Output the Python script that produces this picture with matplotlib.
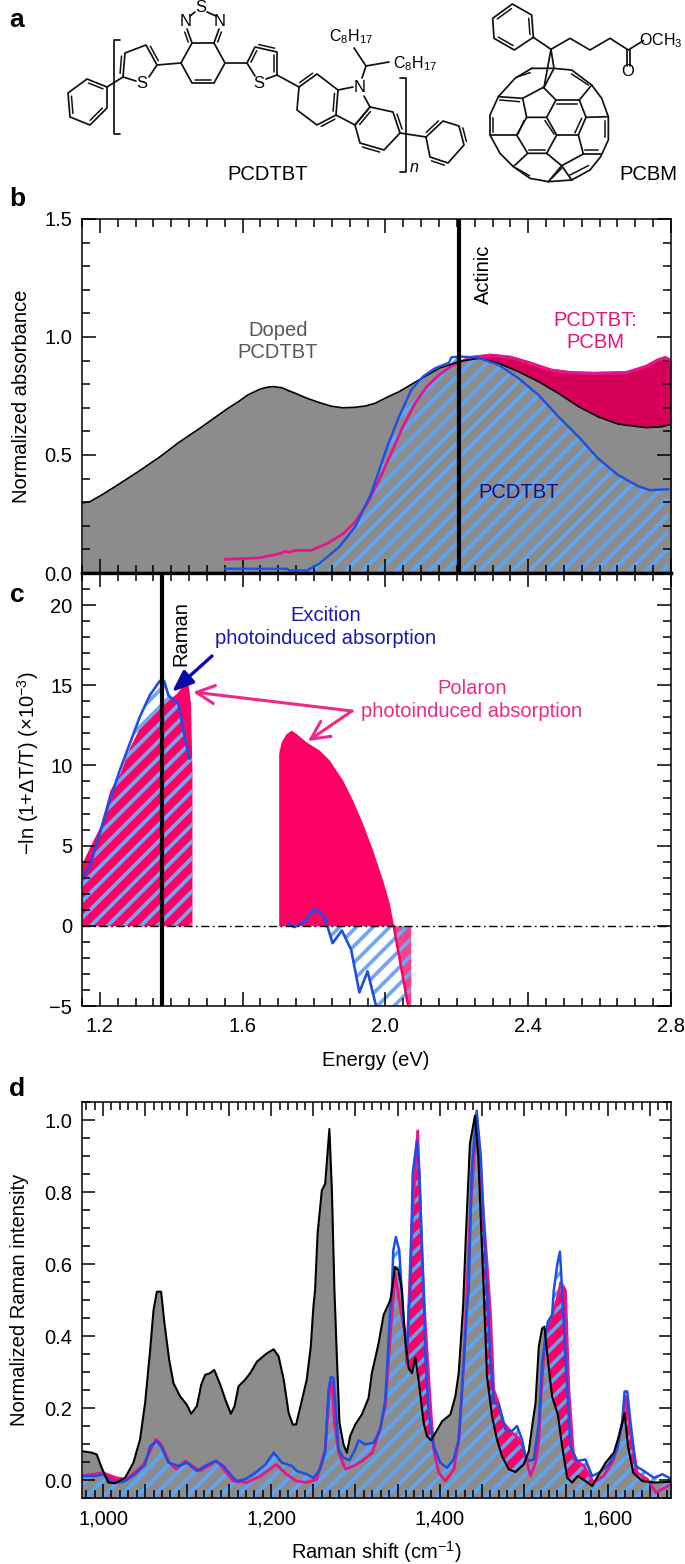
import matplotlib
matplotlib.use("Agg")
import matplotlib.pyplot as plt
import numpy as np
from matplotlib.ticker import MultipleLocator, FuncFormatter

plt.rcParams["font.family"] = ["Liberation Sans", "DejaVu Sans"]
plt.rcParams["font.size"] = 14.5
plt.rcParams["hatch.linewidth"] = 2.7
plt.rcParams["axes.linewidth"] = 1.1
plt.rcParams["mathtext.default"] = "regular"

W, H = 685, 1564

GREY = "#8c8c8c"
HATCH = "#5ca4f6"
HATCH_C = "#72a6f2"
BLUE = "#1c4fe6"
PINK = "#e8158a"
PINK_B = "#d6005a"
PINK_C = "#ff0064"

# panel b: absorbance
doped_e = [1.15, 1.172, 1.21, 1.256, 1.31, 1.368, 1.42, 1.48, 1.558, 1.59, 1.614, 1.647, 1.665, 1.686, 1.71, 1.725, 1.75,
           1.781, 1.815, 1.848, 1.88, 1.915, 1.945, 1.971, 2.005, 2.038, 2.094, 2.15, 2.206, 2.261, 2.317, 2.373, 2.429,
           2.485, 2.541, 2.596, 2.652, 2.73, 2.775, 2.8]
doped_a = [0.297, 0.302, 0.335, 0.379, 0.432, 0.492, 0.552, 0.613, 0.697, 0.728, 0.754, 0.778, 0.786, 0.79, 0.785, 0.775, 0.76,
           0.74, 0.722, 0.707, 0.7, 0.702, 0.708, 0.719, 0.745, 0.768, 0.818, 0.867, 0.896, 0.91, 0.889, 0.853, 0.811,
           0.761, 0.705, 0.662, 0.631, 0.616, 0.62, 0.63]
neat_e = [1.552, 1.725, 1.73, 1.781, 1.815, 1.87, 1.915, 1.96, 2.005, 2.038, 2.072, 2.105, 2.138, 2.178, 2.185, 2.206,
          2.256, 2.317, 2.373, 2.429, 2.485, 2.541, 2.596, 2.652, 2.708, 2.741, 2.792]
neat_a = [0.018, 0.018, 0.011, 0.011, 0.04, 0.11, 0.195, 0.337, 0.535, 0.662, 0.775, 0.832, 0.867, 0.891, 0.914, 0.917,
          0.914, 0.882, 0.825, 0.754, 0.662, 0.577, 0.485, 0.415, 0.368, 0.351, 0.355]
blend_e = [1.552, 1.647, 1.703, 1.72, 1.731, 1.748, 1.792, 1.837, 1.882, 1.915, 1.949, 1.982, 2.016, 2.049, 2.083, 2.116,
           2.15, 2.183, 2.206, 2.239, 2.295, 2.351, 2.407, 2.463, 2.518, 2.585, 2.675, 2.73, 2.764, 2.784, 2.8]
blend_a = [0.058, 0.064, 0.082, 0.092, 0.088, 0.096, 0.096, 0.125, 0.167, 0.216, 0.294, 0.393, 0.507, 0.62, 0.719, 0.79,
           0.839, 0.875, 0.893, 0.913, 0.923, 0.914, 0.889, 0.86, 0.849, 0.846, 0.849, 0.875, 0.903, 0.913, 0.9]

# panel c: photoinduced absorption
pol1_e = [1.15, 1.172, 1.2, 1.228, 1.256, 1.284, 1.312, 1.34, 1.368, 1.396, 1.414, 1.433, 1.447, 1.454, 1.458, 1.458]
pol1_s = [3.9, 4.94, 6.18, 8.46, 9.5, 11.16, 12.4, 13.24, 13.65, 14.17, 14.48, 15.0, 15.1, 13.86, 9.7, 0]
pol2_e = [1.701, 1.701, 1.708, 1.722, 1.736, 1.75, 1.778, 1.815, 1.843, 1.88, 1.908, 1.936, 1.964, 1.992, 2.011, 2.023,
          2.04, 2.066, 2.071]
pol2_s = [0, 10.75, 11.47, 11.99, 12.2, 11.99, 11.47, 10.95, 10.33, 9.09, 7.84, 6.39, 4.73, 2.86, 1.41, 0,
          -2.1, -5.3, -5.3]
exc1_e = [1.15, 1.172, 1.2, 1.228, 1.256, 1.284, 1.312, 1.34, 1.368, 1.38, 1.392, 1.406, 1.42, 1.434, 1.451]
exc1_s = [2.97, 3.69, 5.77, 7.84, 9.7, 11.37, 13.03, 14.38, 15.27, 15.27, 14.38, 14.07, 13.86, 12.2, 10.44]
exc2_e = [1.729, 1.745, 1.773, 1.801, 1.829, 1.852, 1.878, 1.904, 1.927, 1.95, 1.974, 1.985]
exc2_s = [0.12, -0.08, 0.27, 1.04, 0.58, -1.08, -0.29, -1.49, -4.15, -2.84, -5.02, -6.0]

# panel d: Raman
doped_w = [975, 986.5, 992.5, 998.4, 1006.3, 1014.3, 1026.2, 1036.1, 1044, 1050, 1056, 1060, 1064, 1069, 1073, 1078.6, 1083.7,
           1091.7, 1099.6, 1104.8, 1111.5, 1116.7, 1121.4, 1127.4, 1132.1, 1139.3, 1146, 1152, 1156.3, 1161, 1169, 1175,
           1183, 1194.8, 1202.8, 1208.7, 1214.7, 1220.6, 1225.5, 1229.4, 1234.2, 1242.1, 1246.9, 1250, 1252, 1255, 1260,
           1264, 1269, 1272, 1275, 1277.9, 1281, 1285.8, 1289.8, 1293.7, 1299.7, 1307.6, 1315.6, 1319.5, 1327.5, 1333.4,
           1341.4, 1343.3, 1347, 1351, 1355.2, 1359.2, 1363.2, 1367.2, 1371.1, 1375, 1381, 1385, 1389.8, 1395, 1403,
           1412.8, 1418.7, 1422.7, 1427.9, 1431, 1436, 1442, 1446, 1449, 1452.4, 1456.3, 1462.3, 1468.2, 1474.2, 1482.1,
           1490, 1500, 1506, 1510, 1514, 1517.9, 1521.8, 1524.6, 1528.6, 1533.7, 1540.5, 1545.6, 1551.6, 1557.5, 1564.3,
           1573.4, 1581.3, 1589.3, 1597.2, 1607.1, 1613.1, 1619.8, 1623.8, 1630.1, 1640.9, 1654.8, 1676]
doped_i = [0.08, 0.076, 0.071, 0.034, -0.007, -0.009, 0.006, 0.048, 0.113, 0.214, 0.361, 0.472, 0.523, 0.523, 0.435, 0.334, 0.269,
           0.232, 0.209, 0.184, 0.205, 0.265, 0.292, 0.297, 0.306, 0.265, 0.219, 0.184, 0.205, 0.26, 0.279, 0.297,
           0.329, 0.352, 0.363, 0.343, 0.279, 0.186, 0.154, 0.154, 0.2, 0.279, 0.371, 0.481, 0.527, 0.685, 0.804,
           0.823, 0.975, 0.804, 0.527, 0.343, 0.159, 0.099, 0.076, 0.122, 0.154, 0.182, 0.228, 0.297, 0.38, 0.458,
           0.5, 0.527, 0.592, 0.583, 0.527, 0.389, 0.31, 0.297, 0.34, 0.278, 0.159, 0.122, 0.11, 0.131, 0.163,
           0.182, 0.232, 0.297, 0.481, 0.666, 0.934, 1.012, 0.897, 0.72, 0.527, 0.288, 0.177, 0.112, 0.066, 0.03,
           0.022, 0.043, 0.08, 0.15, 0.214, 0.371, 0.421, 0.426, 0.334, 0.232, 0.182, 0.094, 0.006, -0.007, 0.011,
           -0.003, -0.017, 0.016, 0.048, 0.076, 0.122, 0.185, 0.094, 0.02, -0.003, -0.007, -0.005]
neat_w = [975, 990.5, 1000.4, 1008.3, 1018.3, 1026.2, 1038, 1050, 1056, 1064, 1069.8, 1077.8, 1089.7, 1099.6, 1111.5, 1121.4,
          1133.3, 1143.3, 1151.2, 1159, 1169, 1181, 1192.9, 1202.8, 1212.7, 1224.6, 1230.2, 1242.1, 1250, 1258, 1264, 1268,
          1270.7, 1273.9, 1277, 1279.8, 1285.8, 1292.9, 1299.7, 1303.7, 1311.6, 1321.5, 1329.4, 1335.4, 1339.4, 1341.4,
          1343.3, 1345, 1348, 1352, 1355, 1357.2, 1361.2, 1363.6, 1365.2, 1368, 1373, 1376, 1381, 1383, 1387, 1393, 1400.9,
          1408.8, 1416.7, 1422.7, 1426.7, 1432.6, 1434.6, 1438, 1444, 1449, 1452.5, 1456.3, 1460.3, 1464.3, 1470.2, 1478.2,
          1486, 1492, 1498, 1502, 1506, 1512, 1518, 1521.8, 1528.6, 1533.7, 1535.7, 1540, 1543, 1545.6, 1549.6, 1555.5,
          1563.5, 1573.4, 1581.3, 1589.3, 1601.2, 1611.1, 1617, 1619.8, 1623, 1627, 1633, 1642.9, 1654.8, 1664.7, 1676]
neat_i = [0.011, 0.011, 0.016, -0.003, -0.007, -0.003, 0.016, 0.043, 0.094, 0.108, 0.09, 0.048, 0.039, 0.048, 0.025, 0.039,
          0.053, 0.039, 0.016, -0.003, 0.002, 0.02, 0.043, 0.076, 0.048, 0.039, 0.025, 0.016, 0.006, 0.029, 0.076, 0.251,
          0.286, 0.283, 0.186, 0.085, 0.062, 0.055, 0.085, 0.11, 0.099, 0.103, 0.14, 0.223, 0.389, 0.481,
          0.527, 0.638, 0.675, 0.638, 0.528, 0.435, 0.352, 0.481, 0.527, 0.851, 0.943, 0.851, 0.527, 0.352, 0.186, 0.094, 0.048,
          0.034, 0.057, 0.112, 0.251, 0.481, 0.527, 0.851, 1.026, 0.897, 0.72, 0.527, 0.343, 0.214, 0.209, 0.14,
          0.136, 0.15, 0.112, 0.066, 0.053, 0.057, 0.159, 0.325, 0.44, 0.458, 0.527, 0.601, 0.634, 0.527, 0.343, 0.094,
          0.053, 0.057, 0.011, 0.02, 0.043, 0.085, 0.158, 0.246, 0.246, 0.158, 0.039, 0.025, 0.006, 0.016, 0.002]
blend_w = [975, 1000, 1016, 1028, 1048, 1063, 1069, 1079, 1087, 1098, 1115, 1135, 1155, 1171, 1187, 1206, 1218, 1230, 1242,
           1254, 1264, 1269, 1272, 1275, 1280, 1288, 1298, 1308, 1320, 1328, 1335.4, 1343, 1347, 1355, 1359, 1361, 1364, 1367,
           1374, 1379, 1383, 1389, 1393, 1399, 1407, 1417, 1423, 1429, 1437, 1444, 1450, 1456.4, 1460.3, 1464.3, 1470, 1476,
           1486, 1494, 1500, 1504, 1508, 1514, 1518, 1519.8, 1525.8, 1531.7, 1540.5, 1544, 1549.6, 1553.6, 1559.5, 1572, 1583,
           1595, 1607, 1617, 1621, 1629, 1635, 1647, 1657, 1675]
blend_i = [0.011, 0.02, 0.006, 0.002, 0.043, 0.113, 0.099, 0.048, 0.03, 0.053, 0.025, 0.053, -0.003, -0.007, 0.011, 0.043,
           0.016, -0.003, -0.007, 0.002, 0.085, 0.242, 0.27, 0.159, 0.076, 0.03, 0.039, 0.053, 0.076, 0.131, 0.205, 0.45,
           0.574, 0.454, 0.407, 0.325, 0.527, 0.712, 0.97, 0.62, 0.435, 0.214, 0.085, 0.02, -0.003, 0.03, 0.112, 0.343,
           0.758, 1.006, 0.804, 0.6, 0.47, 0.251, 0.214, 0.159, 0.131, 0.117, 0.085, 0.048, 0.011, 0.048, 0.112, 0.205, 0.408,
           0.444, 0.509, 0.55, 0.527, 0.251, 0.057, 0.039, -0.007, 0.011, 0.057, 0.159, 0.232, 0.103, 0.02, 0.002, -0.035,
           -0.012]

e_ticks = [1.2, 1.6, 2.0, 2.4, 2.8]
w_ticks = [1000, 1200, 1400, 1600]


def axes_px(left, top, right, bottom):
    return fig.add_axes([left / W, 1 - bottom / H, (right - left) / W, (bottom - top) / H])


def hatch_fill(ax, x, y1, y2, color):
    ax.fill_between(x, y1, y2, facecolor="none", edgecolor=color, hatch="//", linewidth=0)


def style_ticks(ax, ymaj, ymin, xmaj=0.4, xmin=0.05):
    ax.xaxis.set_major_locator(MultipleLocator(xmaj))
    ax.xaxis.set_minor_locator(MultipleLocator(xmin))
    ax.yaxis.set_major_locator(MultipleLocator(ymaj))
    ax.yaxis.set_minor_locator(MultipleLocator(ymin))
    ax.tick_params(which="major", direction="in", top=True, right=True, length=10, width=1.1, labelsize=14.5)
    ax.tick_params(which="minor", direction="in", top=True, right=True, length=5.5, width=1.1)
    ax.tick_params(axis="y", which="both", pad=7)
    ax.tick_params(axis="x", which="both", pad=8)


fig = plt.figure(figsize=(W / 100, H / 100), dpi=100)

###########
# panel b
###########
axb = axes_px(82, 219, 671, 573)
axb.fill_between(blend_e, blend_a, 0, color=PINK_B, linewidth=0)
axb.fill_between(doped_e, doped_a, 0, color=GREY, linewidth=0)
hatch_fill(axb, neat_e, neat_a, 0, HATCH)
axb.plot(blend_e[blend_e.index(2.239):], blend_a[blend_a.index(0.913):], color=PINK, lw=2.2)
axb.plot(blend_e, blend_a, color=PINK, lw=2.0)
axb.plot(doped_e, doped_a, color="black", lw=1.2)
axb.plot(neat_e, neat_a, color=BLUE, lw=1.7)
axb.axvline(2.205, color="black", lw=3)
axb.set_xlim(1.15, 2.8)
axb.set_ylim(0, 1.5)
style_ticks(axb, 0.5, 0.1)
axb.set_yticks([0, 0.5, 1.0, 1.5])
axb.yaxis.set_major_formatter(FuncFormatter(lambda v, p: f"{v:.1f}"))
axb.tick_params(axis="x", which="both", labelbottom=False)
axb.spines["bottom"].set_linewidth(2.4)
axb.spines["bottom"].set_zorder(5)

###########
# panel c
###########
axc = axes_px(82, 573, 671, 1006)
axc.fill_between(pol1_e, pol1_s, 0, color=PINK_C, linewidth=0)
pol2_e_arr = np.array(pol2_e)
pol2_s_arr = np.array(pol2_s)
axc.fill_between(pol2_e_arr, np.maximum(pol2_s_arr, 0), 0, color=PINK_C, linewidth=0)
axc.fill_between(pol2_e_arr, np.minimum(pol2_s_arr, 0), 0, color="#f0458c", linewidth=0)
axc.plot(pol2_e[15:18], pol2_s[15:18], color=PINK_C, lw=1.8)
# hatch goes on up to the end of the polaron band
hatch_fill(axc, exc1_e + [1.458], exc1_s + [10.44], 0, HATCH_C)
hatch_fill(axc, exc2_e + [2.071], np.minimum(exc2_s + [-6.0], 0), 0, HATCH_C)
axc.plot(exc1_e, exc1_s, color=BLUE, lw=1.9)
axc.plot(exc2_e, exc2_s, color=BLUE, lw=1.9)
axc.axhline(0, color="black", lw=1.0, ls=(0, (6, 2.5, 1.2, 2.5)))
axc.axvline(1.375, color="black", lw=3)
axc.set_xlim(1.15, 2.8)
axc.set_ylim(-5, 22)
style_ticks(axc, 5, 1)
axc.set_xticks(e_ticks)
axc.set_yticks([-5, 0, 5, 10, 15, 20])
axc.xaxis.set_major_formatter(FuncFormatter(lambda v, p: f"{v:.1f}"))
axc.yaxis.set_major_formatter(FuncFormatter(lambda v, p: f"\u2212{abs(v):.0f}" if v < 0 else f"{v:.0f}"))
axc.spines["top"].set_linewidth(2.4)

###########
# panel d
###########
axd = axes_px(82, 1102, 671, 1498)
axd.fill_between(blend_w, blend_i, -0.05, color=PINK_C, linewidth=0)
axd.fill_between(doped_w, doped_i, -0.05, color=GREY, linewidth=0)
axd.plot(blend_w, blend_i, color=PINK, lw=2.0)
hatch_fill(axd, neat_w, neat_i, -0.05, HATCH)
axd.plot(neat_w, neat_i, color=BLUE, lw=1.8)
axd.plot(doped_w, doped_i, color="black", lw=1.5)
axd.set_xlim(975, 1675)
axd.set_ylim(-0.05, 1.05)
style_ticks(axd, 0.2, 0.05, xmaj=50, xmin=10)
axd.yaxis.set_major_formatter(FuncFormatter(lambda v, p: f"{v:.1f}"))
axd.xaxis.set_major_formatter(FuncFormatter(lambda v, p: f"{v:,.0f}" if v in w_ticks else ""))
axd.tick_params(which="major", axis="y", length=9)

###########
# overlay in pixels: labels, arrows and the structures
###########
ov = fig.add_axes([0, 0, 1, 1], zorder=10)
ov.set_xlim(0, W)
ov.set_ylim(H, 0)
ov.axis("off")
ov.patch.set_alpha(0)


def label(x, y, s, **kw):
    kw.setdefault("ha", "center")
    kw.setdefault("va", "center")
    ov.text(x, y, s, **kw)


for letter, ly in zip("abcd", [20, 199, 595, 1089]):
    label(17, ly, letter, fontsize=19, fontweight="bold")

label(22, 396, "Normalized absorbance", rotation=90)
label(28, 763, "\u2212ln (1+\u0394T/T) (\u00d710$^{-3}$)", rotation=90)
label(20, 1300, "Normalized Raman intensity", rotation=90)
label(376, 1060, "Energy (eV)")
label(376, 1552, "Raman shift (cm$^{-1}$)")

label(278, 342, "Doped\nPCDTBT", color="#585858", linespacing=1.2)
label(483, 274, "Actinic", rotation=90)
label(595, 331, "PCDTBT:\nPCBM", color="#e5127f", linespacing=1.2)
label(519, 493, "PCDTBT", color="#10108c")
label(181, 634, "Raman", rotation=90)
label(326, 627, "Excition\nphotoinduced absorption", color="#1818b0", linespacing=1.25)
label(472, 700, "Polaron\nphotoinduced absorption", color="#ee2a86", linespacing=1.25)

navy_arrow = dict(arrowstyle="-|>,head_length=0.9,head_width=0.35", color="#0a0aa8", lw=2.4, shrinkA=0, shrinkB=0)
pink_arrow = dict(arrowstyle="->,head_length=0.9,head_width=0.45", color="#ee2a86", lw=2.2, shrinkA=0, shrinkB=0)
ov.annotate("", xy=(172, 692), xytext=(212, 656), arrowprops=navy_arrow)
ov.annotate("", xy=(193, 692), xytext=(352, 711), arrowprops=pink_arrow)
ov.annotate("", xy=(308, 741), xytext=(352, 711), arrowprops=pink_arrow)


def bonds(points, closed=False, lw=1.25):
    pts = list(points)
    if closed:
        pts.append(pts[0])
    xs, ys = zip(*pts)
    ov.plot(xs, ys, color="#111111", lw=lw, solid_capstyle="round", solid_joinstyle="round")


def inner(p, q, off=3.2, shrink=0.14, side=1):
    # the second stroke of a double bond
    p, q = np.array(p, float), np.array(q, float)
    d = q - p
    n = np.array([-d[1], d[0]]) / np.hypot(*d) * off * side
    a, b = p + d * shrink + n, q - d * shrink + n
    ov.plot([a[0], b[0]], [a[1], b[1]], color="#111111", lw=1.1, solid_capstyle="round")


def phenyl(pts, doubles, side=1):
    bonds(pts, closed=True)
    for i in doubles:
        inner(pts[i], pts[(i + 1) % 6], side=side)


ATOM = 12

# PCDTBT
phenyl([(107, 87), (87, 79), (68, 93), (70, 117), (90, 125), (107, 108)], [0, 2, 4], side=-1)
bonds([(107, 87), (123, 77)])
bonds([(120, 40), (114.5, 40), (114.5, 134), (120, 134)])
bonds([(136, 81), (123, 77), (125, 53), (146, 45), (157, 65), (149, 77)])
inner((123, 77), (125, 53), side=-1)
inner((146, 45), (157, 65), side=-1)
label(142, 84, "S", fontsize=ATOM)
bonds([(157, 65), (181, 63)])
bonds([(181, 63), (192, 43), (214, 43), (225, 63), (214, 83), (192, 83)], closed=True)
inner((192, 83), (214, 83), side=-1)
bonds([(192, 43), (187, 29)])
bonds([(214, 43), (219, 29)])
inner((192, 43), (187, 29), side=-1)
inner((214, 43), (219, 29), side=1)
bonds([(190, 16), (195, 12)])
bonds([(207, 12), (216, 16)])
label(186, 22, "N", fontsize=ATOM)
label(201, 7, "S", fontsize=ATOM)
label(220, 22, "N", fontsize=ATOM)
bonds([(225, 63), (247, 63)])
bonds([(255, 76), (247, 63), (255, 47), (277, 52), (277, 75), (266, 79)])
inner((255, 47), (277, 52), side=-1)
inner((247, 63), (255, 47), side=1)
inner((277, 52), (277, 75), side=1)
label(259, 83, "S", fontsize=ATOM)
bonds([(277, 75), (299, 87)])
bonds([(299, 87), (317, 74), (338, 90), (336, 115), (317, 125), (297, 110)], closed=True)
inner((299, 87), (317, 74), side=-1)
inner((336, 115), (317, 125), side=-1)
inner((338, 90), (336, 115), side=1)
bonds([(338, 90), (353, 87)])
bonds([(364, 96), (370, 107), (355, 125), (336, 115)])
bonds([(370, 107), (393, 112), (400, 133), (384, 150), (360, 143), (355, 125)], closed=True)
inner((393, 112), (400, 133), side=-1)
inner((384, 150), (360, 143), side=-1)
inner((370, 107), (355, 125), side=-1)
label(360, 87, "N", fontsize=ATOM)
bonds([(362, 78), (366, 66), (354, 48)])
bonds([(366, 66), (389, 62)])
label(351, 37, "C$_8$H$_{17}$", fontsize=11.5)
label(415, 64, "C$_8$H$_{17}$", fontsize=11.5)
bonds([(400, 133), (426, 137)])
phenyl([(426, 137), (443, 121), (459, 126), (464, 145), (448, 163), (430, 157)], [0, 2, 4], side=-1)
bonds([(400, 78), (406, 78), (406, 172), (400, 172)])
label(414, 168, "n", fontsize=11.5, style="italic")
label(268, 175, "PCDTBT")

cage_outline = [(155, 205), (220, 205), (275, 210), (335, 255), (365, 295), (385, 350), (385, 420), (362, 470), (330, 510),
                (275, 540), (205, 545), (150, 535), (100, 500), (60, 460), (30, 405), (30, 345), (55, 290), (105, 235)]
cage_paths = [
    [(190, 262), (228, 300), (200, 352), (140, 352), (128, 295), (190, 262)],
    [(228, 300), (298, 300), (318, 352), (295, 405), (230, 405), (200, 352)],
    [(140, 352), (110, 405), (143, 460), (200, 460), (230, 405)],
    [(128, 295), (55, 290)], [(298, 300), (335, 255)], [(318, 352), (385, 350)], [(110, 405), (30, 405)],
    [(295, 405), (310, 462), (245, 497), (200, 460)], [(143, 460), (100, 500)], [(245, 497), (205, 545)],
    [(310, 462), (362, 462)], [(245, 497), (275, 540)],
]
cage_doubles = [[(108, 232), (150, 218)], [(275, 222), (325, 255)], [(60, 300), (118, 305)], [(230, 312), (290, 312)],
                [(195, 362), (222, 402)], [(305, 355), (285, 398)], [(132, 362), (115, 400)], [(148, 450), (195, 450)],
                [(375, 362), (375, 412)], [(315, 450), (355, 450)], [(270, 525), (325, 497)], [(110, 505), (148, 527)],
                [(215, 535), (245, 505)], [(38, 355), (38, 395)]]


def crop(points):
    return [(480 + x / 3, y / 3) for x, y in points]


bonds(crop(cage_outline), closed=True)
for path in cage_paths:
    bonds(crop(path))
for path in cage_doubles:
    ov.plot(*zip(*crop(path)), color="#111111", lw=1.1)
bonds(crop([(213, 148), (192, 262)]))
bonds(crop([(213, 148), (222, 205), (192, 262)]))
bonds(crop([(213, 148), (160, 112)]))
phenyl(crop([(160, 112), (155, 45), (97, 12), (38, 55), (42, 115), (103, 150)]), [0, 2, 4], side=-1)
bonds(crop([(213, 148), (270, 115), (330, 150), (390, 115), (445, 150), (490, 122)]))
bonds(crop([(441, 150), (441, 198)]))
bonds(crop([(450, 150), (450, 198)]))
label(628, 72, "O", fontsize=12)
label(661, 41, "OCH$_3$", fontsize=11.5)
label(648, 174, "PCBM")

fig.savefig("out.png", dpi=100)
